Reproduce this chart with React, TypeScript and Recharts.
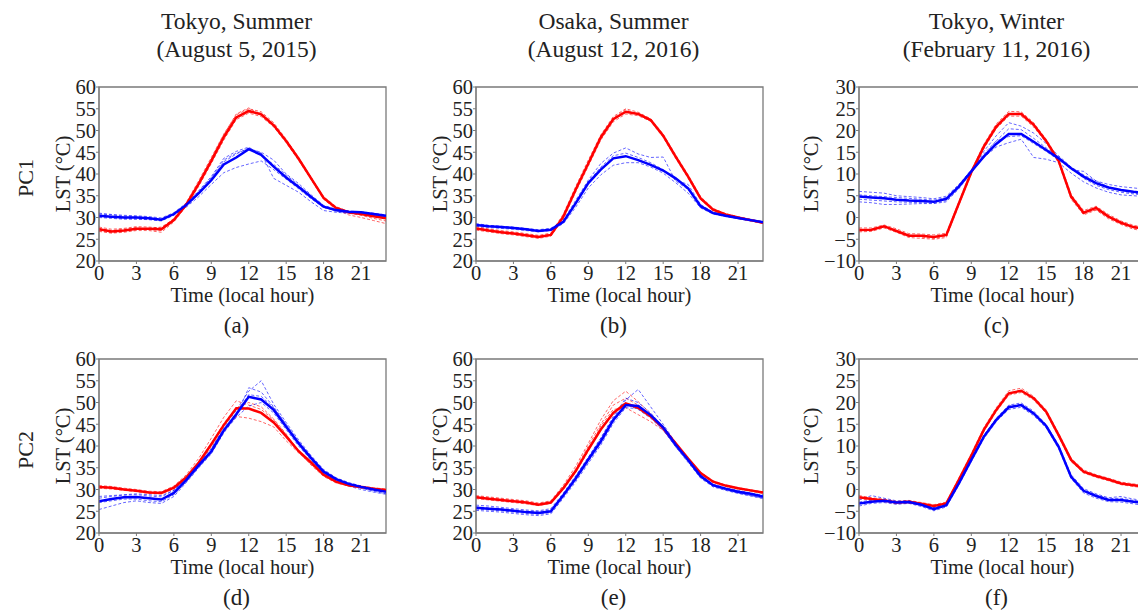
import { LineChart, Line, XAxis, YAxis, ReferenceArea } from 'recharts';

const hours = [0, 1, 2, 3, 4, 5, 6, 7, 8, 9, 10, 11, 12, 13, 14, 15, 16, 17, 18, 19, 20, 21, 22, 23];
const hourTicks = [0, 3, 6, 9, 12, 15, 18, 21];
const summerTicks = [20, 25, 30, 35, 40, 45, 50, 55, 60];
const winterTicks = [-10, -5, 0, 5, 10, 15, 20, 25, 30];

const columnTitles = [
  ['Tokyo, Summer', '(August 5, 2015)'],
  ['Osaka, Summer', '(August 12, 2016)'],
  ['Tokyo, Winter', '(February 11, 2016)'],
];
const rowLabels = ['PC1', 'PC2'];
const panelLetters = ['(a)', '(b)', '(c)', '(d)', '(e)', '(f)'];

// (a) Tokyo, summer, PC1
const aRed = [27.3, 26.8, 27.0, 27.4, 27.4, 27.3, 29.4, 33.0, 37.8, 43.0, 48.5, 53.0, 54.5, 53.7, 51.2, 47.6, 43.5, 39.0, 34.5, 32.2, 31.2, 30.8, 30.3, 29.8];
const aRedRuns = [
  [27.8, 27.3, 27.5, 27.9, 27.8, 27.6, 29.8, 33.5, 38.5, 43.8, 49.2, 53.6, 55.0, 54.3, 51.8, 48.0, 43.8, 39.2, 34.6, 32.3, 31.3, 30.9, 30.5, 30.1],
  [26.8, 26.4, 26.6, 27.0, 27.0, 26.6, 29.0, 32.6, 37.2, 42.4, 47.8, 52.5, 54.0, 53.2, 50.8, 47.2, 43.1, 38.7, 34.3, 32.0, 31.0, 30.5, 29.8, 29.2],
  [27.5, 27.0, 27.3, 27.7, 27.2, 27.0, 29.2, 33.2, 38.2, 43.5, 49.0, 53.8, 55.2, 53.5, 51.0, 47.4, 43.3, 38.8, 34.2, 31.8, 30.6, 30.0, 29.3, 28.6],
  [27.0, 26.5, 26.8, 27.2, 27.5, 27.8, 29.6, 33.0, 37.5, 42.8, 48.0, 52.8, 54.2, 54.0, 51.5, 47.8, 43.6, 39.2, 34.8, 32.5, 31.4, 31.0, 30.7, 30.3],
];
const aBlue = [30.4, 30.2, 30.0, 30.0, 29.8, 29.5, 30.8, 32.9, 35.6, 38.6, 42.2, 43.8, 45.7, 44.4, 41.7, 39.2, 37.0, 34.7, 32.5, 31.7, 31.3, 31.2, 30.8, 30.4];
const aBlueRuns = [
  [30.8, 30.6, 30.3, 30.2, 30.0, 29.6, 30.6, 32.4, 34.8, 37.6, 40.3, 41.5, 42.3, 43.0, 41.0, 38.8, 36.6, 34.3, 32.3, 31.5, 31.2, 31.0, 30.6, 30.2],
  [30.0, 29.8, 29.6, 29.6, 29.5, 29.2, 30.5, 32.6, 35.4, 38.8, 42.8, 44.6, 46.0, 44.8, 39.0, 37.4, 35.8, 33.6, 31.6, 31.2, 31.0, 30.8, 30.4, 30.0],
  [31.0, 30.7, 30.5, 30.4, 30.2, 29.9, 31.1, 33.3, 36.0, 39.2, 43.2, 44.8, 45.8, 45.0, 43.2, 40.0, 37.8, 35.2, 32.8, 31.9, 31.5, 31.3, 31.0, 30.6],
  [30.2, 30.0, 29.8, 29.7, 29.6, 29.3, 30.7, 33.2, 36.2, 39.4, 43.6, 45.2, 46.2, 44.2, 42.2, 39.8, 37.4, 35.0, 32.4, 31.4, 31.0, 30.9, 30.6, 30.3],
];

// (b) Osaka, summer, PC1
const bRed = [27.5, 27.0, 26.6, 26.3, 25.9, 25.5, 26.0, 30.2, 36.5, 42.4, 48.4, 52.6, 54.3, 53.8, 52.4, 48.8, 44.0, 39.4, 34.4, 31.8, 30.7, 30.0, 29.4, 28.8];
const bRedRuns = [
  [27.9, 27.4, 27.0, 26.7, 26.3, 25.9, 26.4, 30.8, 37.2, 43.2, 49.0, 53.2, 55.0, 54.2, 52.7, 49.2, 44.4, 39.8, 34.8, 32.1, 30.9, 30.2, 29.6, 29.0],
  [27.1, 26.7, 26.3, 26.0, 25.6, 25.2, 25.7, 29.7, 35.9, 41.8, 47.8, 52.0, 53.8, 53.4, 52.1, 48.4, 43.6, 39.0, 34.1, 31.6, 30.5, 29.8, 29.2, 28.6],
  [27.6, 27.2, 26.8, 26.5, 26.1, 25.7, 26.2, 30.5, 36.8, 42.8, 48.8, 52.9, 54.8, 53.6, 52.2, 48.6, 43.8, 39.2, 34.6, 32.0, 30.8, 30.1, 29.5, 28.9],
];
const bBlue = [28.3, 28.0, 27.8, 27.6, 27.3, 26.9, 27.2, 29.0, 33.3, 37.9, 41.0, 43.6, 44.1, 43.2, 42.1, 40.8, 39.0, 36.7, 32.6, 31.0, 30.4, 29.9, 29.4, 28.9];
const bBlueRuns = [
  [28.6, 28.2, 28.0, 27.8, 27.5, 27.2, 27.5, 29.4, 34.0, 38.6, 42.4, 44.8, 46.0, 44.6, 43.8, 43.9, 38.4, 36.4, 32.8, 31.2, 30.6, 30.1, 29.6, 29.1],
  [28.0, 27.7, 27.5, 27.3, 27.0, 26.7, 27.0, 28.6, 32.4, 36.8, 39.8, 42.0, 42.6, 42.6, 41.6, 40.2, 38.0, 35.6, 32.2, 30.8, 30.2, 29.7, 29.2, 28.8],
  [28.4, 28.1, 27.9, 27.7, 27.4, 27.0, 27.4, 29.2, 33.6, 38.2, 41.6, 44.2, 44.8, 43.8, 42.6, 41.0, 38.6, 37.6, 33.0, 31.2, 30.5, 30.0, 29.5, 29.0],
];

// (c) Tokyo, winter, PC1
const cRed = [-2.9, -2.8, -2.0, -3.1, -4.2, -4.2, -4.5, -4.0, 3.2, 10.4, 16.3, 20.9, 23.8, 23.8, 21.3, 17.6, 13.0, 4.8, 1.1, 2.2, 0.2, -1.2, -2.2, -2.7];
const cRedRuns = [
  [-2.4, -2.4, -1.7, -2.6, -3.7, -3.8, -4.0, -3.6, 3.6, 10.8, 16.8, 21.5, 24.4, 24.3, 21.8, 18.0, 13.4, 5.3, 1.6, 2.6, 0.7, -0.8, -1.8, -2.3],
  [-3.3, -3.2, -2.4, -3.4, -4.6, -4.8, -5.0, -4.6, 2.8, 10.0, 15.8, 20.4, 23.3, 23.3, 20.8, 17.2, 12.5, 4.2, 0.6, 1.7, -0.3, -1.6, -2.7, -3.1],
  [-2.7, -3.0, -2.2, -3.0, -4.0, -4.5, -4.8, -4.3, 3.0, 10.2, 16.0, 20.6, 23.5, 24.1, 21.6, 17.4, 12.8, 4.5, 0.9, 1.8, 0.0, -1.4, -2.4, -2.9],
];
const cBlue = [4.8, 4.6, 4.4, 4.1, 3.9, 3.8, 3.6, 4.3, 7.1, 10.6, 14.0, 16.9, 19.2, 19.2, 17.4, 15.5, 13.6, 11.3, 9.4, 7.9, 6.9, 6.3, 5.9, 5.7];
const cBlueRuns = [
  [6.0, 5.8, 5.6, 5.0, 4.8, 4.6, 4.3, 4.9, 7.6, 10.8, 15.2, 18.8, 21.8, 21.0, 19.4, 17.0, 14.2, 11.6, 9.8, 8.4, 7.6, 7.1, 6.8, 6.5],
  [3.6, 3.4, 3.0, 3.0, 3.1, 3.2, 3.2, 3.6, 6.6, 10.4, 13.8, 16.2, 17.2, 18.0, 13.8, 13.4, 12.6, 10.2, 8.2, 6.8, 5.8, 5.2, 5.0, 4.8],
  [4.2, 4.0, 3.8, 3.6, 3.5, 3.4, 3.3, 3.9, 6.9, 10.4, 14.2, 17.6, 20.4, 20.2, 18.2, 16.0, 14.0, 11.0, 10.6, 8.4, 7.0, 6.2, 5.6, 5.2],
  [5.2, 5.0, 4.8, 4.6, 4.4, 4.2, 4.0, 4.6, 7.4, 11.0, 14.6, 17.6, 18.6, 18.8, 17.0, 15.2, 13.2, 11.4, 9.0, 7.4, 6.4, 5.8, 5.4, 5.2],
];

// (d) Tokyo, summer, PC2
const dRed = [30.6, 30.4, 30.0, 29.7, 29.3, 29.2, 30.4, 32.8, 36.2, 40.4, 44.8, 48.7, 48.6, 47.6, 45.4, 42.2, 38.8, 36.2, 33.4, 31.8, 31.0, 30.6, 30.2, 29.9];
const dRedRuns = [
  [30.9, 30.7, 30.3, 30.0, 29.6, 29.5, 30.8, 33.4, 37.2, 41.8, 46.6, 50.4, 49.4, 48.4, 46.0, 42.6, 39.0, 36.2, 33.6, 32.0, 31.2, 30.8, 30.4, 30.1],
  [30.3, 30.1, 29.8, 29.5, 29.1, 29.0, 30.1, 32.4, 35.8, 39.8, 43.6, 46.8, 46.4, 45.6, 44.4, 41.2, 38.4, 35.8, 33.2, 31.6, 30.8, 30.4, 30.0, 29.6],
  [30.7, 30.5, 30.1, 29.8, 29.4, 29.3, 30.5, 32.9, 36.4, 40.6, 45.2, 48.8, 50.0, 49.0, 46.2, 42.8, 38.6, 35.6, 33.0, 31.5, 30.8, 30.4, 30.0, 29.7],
];
const dBlue = [27.3, 27.8, 28.2, 28.3, 28.0, 27.7, 29.2, 32.2, 35.6, 38.8, 43.6, 47.3, 51.3, 50.7, 48.3, 44.4, 40.6, 37.2, 34.1, 32.4, 31.3, 30.6, 30.0, 29.5];
const dBlueRuns = [
  [28.0, 28.4, 28.7, 28.8, 28.5, 28.3, 29.8, 32.8, 36.2, 39.4, 44.2, 48.2, 52.6, 55.0, 49.6, 45.4, 41.4, 37.8, 34.6, 32.7, 31.6, 30.8, 30.2, 29.7],
  [25.4, 26.2, 27.0, 27.4, 27.0, 26.8, 28.4, 31.6, 35.0, 38.2, 43.0, 46.8, 53.4, 52.4, 49.0, 45.0, 41.0, 37.4, 34.2, 32.3, 31.1, 30.3, 29.6, 29.0],
  [28.4, 28.6, 28.8, 29.0, 28.8, 28.6, 29.8, 32.6, 35.2, 38.4, 43.2, 46.6, 49.2, 50.0, 47.6, 43.8, 40.0, 36.8, 33.8, 32.0, 30.8, 30.0, 29.4, 28.9],
  [27.0, 27.4, 27.8, 27.8, 27.4, 27.2, 28.8, 31.8, 35.2, 38.4, 43.4, 47.6, 51.8, 51.4, 48.8, 44.8, 41.0, 37.6, 34.4, 32.6, 31.5, 30.8, 30.2, 29.7],
];

// (e) Osaka, summer, PC2
const eRed = [28.2, 27.9, 27.6, 27.3, 27.0, 26.5, 27.0, 30.3, 34.3, 39.2, 43.8, 47.6, 49.8, 48.8, 46.8, 44.1, 40.6, 37.1, 33.8, 31.8, 30.9, 30.3, 29.8, 29.3];
const eRedRuns = [
  [28.6, 28.3, 28.0, 27.7, 27.4, 26.9, 27.4, 31.0, 35.4, 40.6, 46.0, 50.4, 52.6, 50.2, 47.4, 44.2, 40.6, 37.0, 33.8, 31.9, 31.0, 30.4, 29.9, 29.4],
  [27.9, 27.6, 27.3, 27.0, 26.7, 26.3, 26.8, 30.0, 34.0, 38.8, 44.6, 48.4, 48.8, 47.2, 45.6, 43.6, 40.4, 36.8, 33.6, 31.6, 30.7, 30.1, 29.6, 29.1],
  [28.4, 28.1, 27.8, 27.5, 27.2, 26.7, 27.2, 30.6, 34.8, 40.0, 45.0, 49.4, 51.0, 49.4, 47.0, 44.0, 40.8, 37.2, 34.0, 32.0, 31.0, 30.4, 29.9, 29.4],
];
const eBlue = [25.8, 25.6, 25.4, 25.1, 24.8, 24.6, 25.0, 28.7, 32.6, 36.9, 41.1, 46.0, 49.4, 49.2, 47.1, 44.3, 40.3, 36.8, 33.1, 31.0, 30.2, 29.5, 29.0, 28.4];
const eBlueRuns = [
  [26.4, 26.2, 25.9, 25.6, 25.3, 25.1, 25.6, 29.2, 33.2, 37.4, 41.8, 46.4, 50.6, 53.0, 49.0, 45.0, 40.8, 37.0, 33.4, 31.2, 30.4, 29.8, 29.2, 28.7],
  [25.2, 25.0, 24.8, 24.5, 24.2, 24.0, 24.4, 28.0, 31.8, 36.0, 40.2, 45.2, 48.8, 48.6, 46.6, 43.8, 39.8, 36.2, 32.6, 30.6, 29.8, 29.1, 28.5, 27.9],
  [26.0, 25.8, 25.6, 25.3, 25.0, 24.9, 25.3, 29.0, 33.0, 37.4, 41.8, 46.8, 51.0, 50.0, 47.6, 44.4, 40.2, 36.6, 32.8, 30.8, 30.0, 29.3, 28.7, 28.1],
  [25.5, 25.3, 25.1, 24.8, 24.5, 24.3, 24.7, 28.4, 32.2, 36.4, 40.6, 45.6, 49.6, 48.4, 46.4, 43.6, 39.8, 36.4, 32.8, 30.8, 29.9, 29.2, 28.6, 28.0],
];

// (f) Tokyo, winter, PC2
const fRed = [-1.8, -2.2, -2.5, -3.0, -2.8, -3.3, -3.8, -3.2, 2.2, 7.8, 13.7, 18.3, 22.1, 22.7, 21.0, 17.9, 12.5, 6.8, 4.1, 3.1, 2.3, 1.4, 1.0, 0.6];
const fRedRuns = [
  [-1.4, -1.9, -2.2, -2.7, -2.5, -3.0, -3.5, -2.9, 2.6, 8.2, 14.2, 18.8, 22.7, 23.3, 21.4, 18.3, 12.9, 7.2, 4.5, 3.4, 2.6, 1.7, 1.3, 0.9],
  [-2.1, -2.5, -2.8, -3.3, -3.1, -3.6, -4.1, -3.5, 1.9, 7.4, 13.3, 17.9, 21.7, 22.3, 20.6, 17.5, 12.1, 6.4, 3.8, 2.8, 2.0, 1.1, 0.7, 0.3],
];
const fBlue = [-3.2, -2.8, -2.6, -3.0, -2.9, -3.5, -4.5, -3.6, 1.4, 6.8, 12.1, 16.0, 18.9, 19.4, 17.5, 14.6, 9.8, 2.9, -0.3, -1.5, -2.4, -2.4, -2.8, -3.2];
const fBlueRuns = [
  [-2.4, -1.4, -2.0, -2.6, -2.6, -3.2, -4.1, -3.3, 1.8, 7.2, 12.5, 16.4, 19.4, 19.9, 18.0, 15.0, 10.2, 3.4, 0.2, -1.0, -1.9, -1.6, -2.2, -2.6],
  [-3.8, -3.2, -3.0, -3.4, -3.2, -3.9, -4.9, -4.0, 1.0, 6.4, 11.7, 15.6, 18.4, 18.9, 17.0, 14.2, 9.4, 2.5, -0.8, -2.0, -2.8, -2.9, -3.3, -3.7],
  [-2.9, -2.4, -2.4, -2.8, -2.7, -3.3, -4.2, -3.4, 1.6, 7.0, 12.3, 16.2, 19.2, 19.6, 17.7, 14.8, 10.0, 3.1, -0.1, -1.2, -2.1, -2.0, -2.5, -2.9],
];

const FONT = 'Liberation Serif, Times New Roman, serif';
const TEXT = '#222';
const FRAME = '#7a7a7a';
const RED = '#ff0000';
const BLUE = '#0000ff';

const PLOT_W = 287;
const PLOT_H = 174;
const Y_W = 60;
const X_H = 40;
const TOP_PAD = 16;
const RIGHT_PAD = 10;

const colLefts = [99, 476, 859];
const rowTops = [87, 359];

const buildRows = (red: number[], redRuns: number[][], blue: number[], blueRuns: number[][]) =>
  hours.map((hour, i) => {
    const row: Record<string, number> = { hour, red: red[i], blue: blue[i] };
    redRuns.forEach((run, k) => { row[`red${k}`] = run[i]; });
    blueRuns.forEach((run, k) => { row[`blue${k}`] = run[i]; });
    return row;
  });

const fmtTick = (v: number) => String(v).replace('-', '\u2212');

interface PanelProps {
  left: number;
  top: number;
  yTicks: number[];
  red: number[];
  redRuns: number[][];
  blue: number[];
  blueRuns: number[][];
}

const Panel = ({ left, top, yTicks, red, redRuns, blue, blueRuns }: PanelProps) => {
  const data = buildRows(red, redRuns, blue, blueRuns);
  const yMin = yTicks[0];
  const yMax = yTicks[yTicks.length - 1];
  const tickStyle = { fontFamily: FONT, fontSize: 20.5, fill: TEXT };
  return (
    <div style={{ position: 'absolute', left: left - Y_W, top: top - TOP_PAD }}>
      <LineChart
        width={Y_W + PLOT_W + RIGHT_PAD}
        height={TOP_PAD + PLOT_H + X_H}
        data={data}
        margin={{ top: TOP_PAD, right: RIGHT_PAD, bottom: 0, left: 0 }}
      >
        <XAxis
          type="number"
          dataKey="hour"
          domain={[0, 23]}
          ticks={hourTicks}
          interval={0}
          height={X_H}
          tick={tickStyle}
          tickSize={3}
          tickMargin={1}
          stroke={FRAME}
          allowDataOverflow
        />
        <YAxis
          type="number"
          domain={[yMin, yMax]}
          ticks={yTicks}
          interval={0}
          width={Y_W}
          tick={tickStyle}
          tickSize={3}
          tickMargin={0}
          tickFormatter={fmtTick}
          stroke={FRAME}
          allowDataOverflow
        />
        <ReferenceArea x1={0} x2={23} y1={yMin} y2={yMax} fill="none" stroke={FRAME} strokeWidth={1.3} />
        {redRuns.map((_, k) => (
          <Line key={`r${k}`} dataKey={`red${k}`} type="linear" dot={false} stroke={RED}
            strokeWidth={1} strokeOpacity={0.6} strokeDasharray="3 2" isAnimationActive={false} />
        ))}
        {blueRuns.map((_, k) => (
          <Line key={`b${k}`} dataKey={`blue${k}`} type="linear" dot={false} stroke={BLUE}
            strokeWidth={1} strokeOpacity={0.6} strokeDasharray="3 2" isAnimationActive={false} />
        ))}
        <Line dataKey="red" type="linear" dot={false} stroke={RED} strokeWidth={2.5} isAnimationActive={false} />
        <Line dataKey="blue" type="linear" dot={false} stroke={BLUE} strokeWidth={2.5} isAnimationActive={false} />
      </LineChart>
    </div>
  );
};

const panels = [
  { yTicks: summerTicks, red: aRed, redRuns: aRedRuns, blue: aBlue, blueRuns: aBlueRuns },
  { yTicks: summerTicks, red: bRed, redRuns: bRedRuns, blue: bBlue, blueRuns: bBlueRuns },
  { yTicks: winterTicks, red: cRed, redRuns: cRedRuns, blue: cBlue, blueRuns: cBlueRuns },
  { yTicks: summerTicks, red: dRed, redRuns: dRedRuns, blue: dBlue, blueRuns: dBlueRuns },
  { yTicks: summerTicks, red: eRed, redRuns: eRedRuns, blue: eBlue, blueRuns: eBlueRuns },
  { yTicks: winterTicks, red: fRed, redRuns: fRedRuns, blue: fBlue, blueRuns: fBlueRuns },
];

const App = () => {
  const textProps = { fontFamily: FONT, fill: TEXT };
  return (
    <div style={{ position: 'absolute', left: 0, top: 0, width: 1138, height: 610, overflow: 'hidden', background: '#fff' }}>
      {panels.map((p, i) => (
        <Panel key={i} left={colLefts[i % 3]} top={rowTops[Math.floor(i / 3)]} {...p} />
      ))}
      <svg width={1138} height={610} style={{ position: 'absolute', left: 0, top: 0, pointerEvents: 'none' }}>
        {columnTitles.map((lines, c) => {
          const cx = colLefts[c] + PLOT_W / 2 - 6;
          return (
            <g key={c}>
              <text x={cx} y={29} textAnchor="middle" fontSize={23.5} {...textProps}>{lines[0]}</text>
              <text x={cx} y={57} textAnchor="middle" fontSize={23.5} {...textProps}>{lines[1]}</text>
            </g>
          );
        })}
        {rowLabels.map((label, r) => (
          <text key={label} transform={`translate(25, ${rowTops[r] + PLOT_H / 2 + 4}) rotate(-90)`}
            textAnchor="middle" dominantBaseline="central" fontSize={22} {...textProps}>{label}</text>
        ))}
        {panels.map((p, i) => {
          const left = colLefts[i % 3];
          const top = rowTops[Math.floor(i / 3)];
          const bottom = top + PLOT_H;
          const cx = left + PLOT_W / 2;
          const yLabelX = left - (p.yTicks[0] < 0 ? 48 : 36);
          return (
            <g key={i}>
              <text transform={`translate(${yLabelX}, ${top + PLOT_H / 2}) rotate(-90)`}
                textAnchor="middle" dominantBaseline="central" fontSize={20.5} {...textProps}>LST (°C)</text>
              <text x={cx} y={bottom + 41} textAnchor="middle" fontSize={20.5} {...textProps}>Time (local hour)</text>
              <text x={cx - 6} y={bottom + 72} textAnchor="middle" fontSize={23} {...textProps}>{panelLetters[i]}</text>
            </g>
          );
        })}
      </svg>
    </div>
  );
};

export default App;
